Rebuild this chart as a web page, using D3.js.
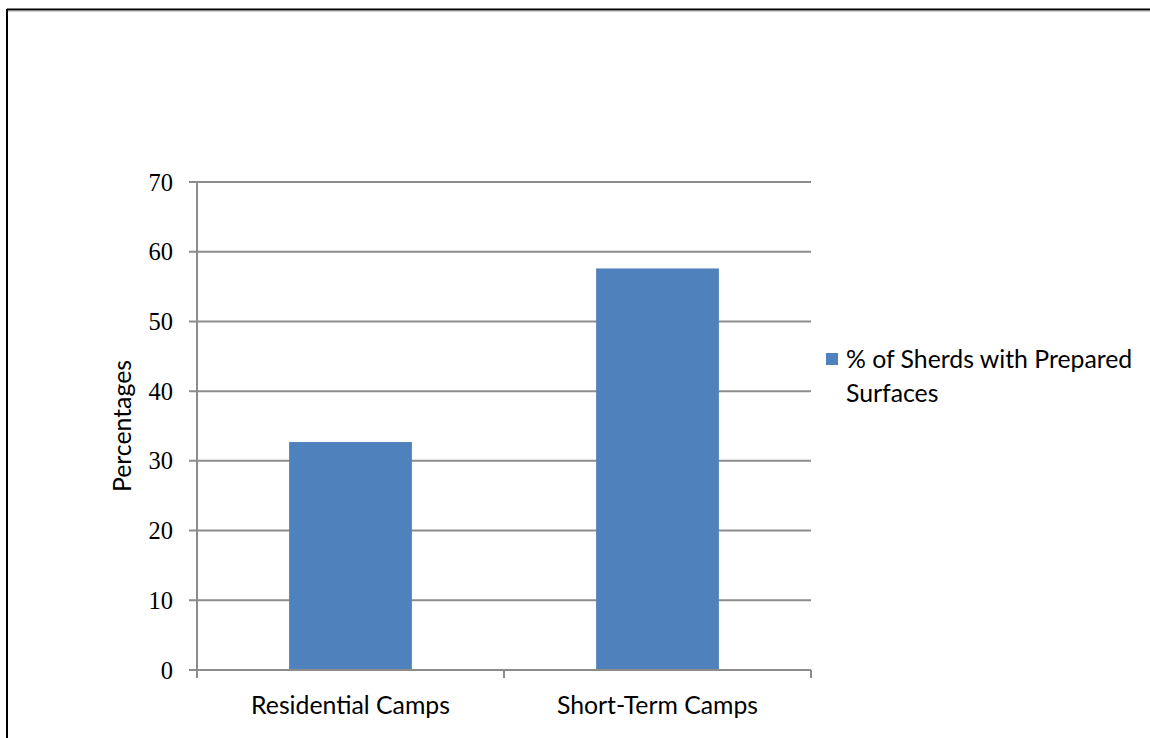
<!DOCTYPE html>
<html>
<head>
<meta charset="utf-8">
<script src="https://cdn.jsdelivr.net/npm/d3@7"></script>
<style>
  html, body { margin: 0; padding: 0; background: #fff; }
  svg { display: block; }
</style>
</head>
<body>
<svg id="chart" width="1150" height="738"></svg>
<script>
// Chart data
const categories = ["Residential Camps", "Short-Term Camps"];
const seriesName = "% of Sherds with Prepared Surfaces";
const values = [32.7, 57.6];
const yTicks = [0, 10, 20, 30, 40, 50, 60, 70];

const svg = d3.select("#chart");
const sansFont = "Lato, 'Open Sans', 'Noto Sans', sans-serif";
const sansSize = 24.8;

// Frame lines along the top and left edges
svg.append("line").attr("x1", 7).attr("x2", 1150).attr("y1", 9.5).attr("y2", 9.5)
  .attr("stroke", "#000").attr("stroke-width", 2);
svg.append("line").attr("x1", 7).attr("x2", 1150).attr("y1", 11).attr("y2", 11)
  .attr("stroke", "#999").attr("stroke-width", 1);
svg.append("line").attr("x1", 7).attr("x2", 7).attr("y1", 9).attr("y2", 738)
  .attr("stroke", "#000").attr("stroke-width", 2);

const plot = { left: 197, right: 811, top: 182, bottom: 670 };

const x = d3.scaleBand().domain(categories).range([plot.left, plot.right]);
const y = d3.scaleLinear().domain([0, 70]).range([plot.bottom, plot.top]);

const gridColor = "#8c8c8c";

// Horizontal gridlines with tick marks extending left of the axis
svg.append("g").selectAll("line").data(yTicks).join("line")
  .attr("x1", plot.left - 8).attr("x2", plot.right)
  .attr("y1", d => y(d)).attr("y2", d => y(d))
  .attr("stroke", gridColor).attr("stroke-width", 2);

// Bars (40% of each band, centred)
const barW = x.bandwidth() * 0.4;
svg.append("g").selectAll("rect").data(values).join("rect")
  .attr("x", (d, i) => x(categories[i]) + (x.bandwidth() - barW) / 2)
  .attr("width", barW)
  .attr("y", d => y(d))
  .attr("height", d => y(0) - y(d))
  .attr("fill", "#4f81bd");

// Y axis line
svg.append("line").attr("x1", plot.left).attr("x2", plot.left)
  .attr("y1", plot.top).attr("y2", plot.bottom)
  .attr("stroke", gridColor).attr("stroke-width", 2);

// X axis baseline and category tick marks
svg.append("line").attr("x1", plot.left - 8).attr("x2", plot.right)
  .attr("y1", plot.bottom).attr("y2", plot.bottom)
  .attr("stroke", gridColor).attr("stroke-width", 2);
const xBounds = categories.map(c => x(c)).concat([plot.right]);
svg.append("g").selectAll("line").data(xBounds).join("line")
  .attr("x1", d => d).attr("x2", d => d)
  .attr("y1", plot.bottom).attr("y2", plot.bottom + 8)
  .attr("stroke", gridColor).attr("stroke-width", 2);

// Y tick labels
svg.append("g").selectAll("text").data(yTicks).join("text")
  .attr("x", 173).attr("y", d => y(d))
  .attr("dy", "0.35em")
  .attr("text-anchor", "end")
  .attr("font-family", "'Liberation Serif', 'Times New Roman', serif")
  .attr("font-size", 24.5)
  .attr("fill", "#000")
  .text(d => d);

// X category labels
svg.append("g").selectAll("text").data(categories).join("text")
  .attr("x", d => x(d) + x.bandwidth() / 2)
  .attr("y", 714)
  .attr("text-anchor", "middle")
  .attr("font-family", sansFont)
  .attr("font-size", sansSize)
  .attr("fill", "#000")
  .text(d => d);

// Y axis title
svg.append("text")
  .attr("transform", `translate(131, ${(plot.top + plot.bottom) / 2}) rotate(-90)`)
  .attr("text-anchor", "middle")
  .attr("font-family", sansFont)
  .attr("font-size", sansSize)
  .attr("fill", "#000")
  .text("Percentages");

// Legend
const legend = svg.append("g");
legend.append("rect").attr("x", 826).attr("y", 353).attr("width", 12).attr("height", 12)
  .attr("fill", "#4f81bd");
const words = seriesName.split(" ");
const lines = [words.slice(0, 5).join(" "), words.slice(5).join(" ")];
legend.append("g").selectAll("text").data(lines).join("text")
  .attr("x", 846).attr("y", (d, i) => 368 + i * 34)
  .attr("font-family", sansFont)
  .attr("font-size", sansSize)
  .attr("fill", "#000")
  .text(d => d);
</script>
</body>
</html>
